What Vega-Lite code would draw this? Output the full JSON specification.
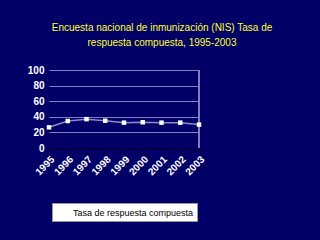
{
  "$schema": "https://vega.github.io/schema/vega-lite/v6.json",
  "width": 150,
  "height": 78,
  "autosize": {"type": "none"},
  "padding": {"left": 49, "top": 70, "right": 121, "bottom": 92},
  "background": "#000066",
  "title": {
    "text": ["Encuesta nacional de inmunización (NIS) Tasa de", "respuesta compuesta, 1995-2003"],
    "color": "#ffff33",
    "font": "Liberation Sans",
    "fontSize": 10,
    "fontWeight": "normal",
    "lineHeight": 15,
    "dx": 38,
    "offset": 17
  },
  "config": {
    "view": {"stroke": null},
    "font": "Liberation Sans"
  },
  "data": {
    "values": [
      {"anio": "1995", "valor": 26.5, "serie": "Tasa de respuesta compuesta"},
      {"anio": "1996", "valor": 34.6, "serie": "Tasa de respuesta compuesta"},
      {"anio": "1997", "valor": 37, "serie": "Tasa de respuesta compuesta"},
      {"anio": "1998", "valor": 35, "serie": "Tasa de respuesta compuesta"},
      {"anio": "1999", "valor": 32.5, "serie": "Tasa de respuesta compuesta"},
      {"anio": "2000", "valor": 33, "serie": "Tasa de respuesta compuesta"},
      {"anio": "2001", "valor": 32.5, "serie": "Tasa de respuesta compuesta"},
      {"anio": "2002", "valor": 32.5, "serie": "Tasa de respuesta compuesta"},
      {"anio": "2003", "valor": 30, "serie": "Tasa de respuesta compuesta"}
    ]
  },
  "encoding": {
    "x": {
      "field": "anio", "type": "ordinal",
      "scale": {"type": "point", "padding": 0},
      "axis": {
        "title": null, "labelAngle": -45, "labelColor": "white", "labelFontWeight": "bold",
        "labelFontSize": 10, "domainColor": "#000022", "tickColor": "#000022", "tickSize": 3,
        "labelPadding": 3, "grid": false
      }
    },
    "y": {
      "field": "valor", "type": "quantitative",
      "scale": {"domain": [0, 100]},
      "axis": {
        "title": null, "values": [0, 20, 40, 60, 80, 100], "labelColor": "white",
        "labelFontWeight": "bold", "labelFontSize": 10, "domain": false, "ticks": false,
        "gridColor": "#8080c0", "gridOpacity": 1, "labelPadding": 5
      }
    }
  },
  "layer": [
    {
      "mark": {"type": "rule", "color": "#8080c0"},
      "encoding": {
        "x": {"datum": "2003"},
        "y": {"datum": 0},
        "y2": {"datum": 100}
      }
    },
    {
      "mark": {"type": "line", "strokeWidth": 1.5},
      "encoding": {
        "color": {
          "field": "serie", "type": "nominal",
          "scale": {"range": ["#8c8cc8"]},
          "legend": {
            "title": null, "orient": "none", "legendX": 3, "legendY": 133,
            "fillColor": "white", "strokeColor": "#999999", "padding": 3,
            "labelColor": "black", "labelFontSize": 9, "symbolOpacity": 0,
            "symbolSize": 150, "labelLimit": 300
          }
        }
      }
    },
    {
      "mark": {"type": "point", "shape": "square", "filled": true, "color": "white", "opacity": 1, "size": 20}
    }
  ]
}
